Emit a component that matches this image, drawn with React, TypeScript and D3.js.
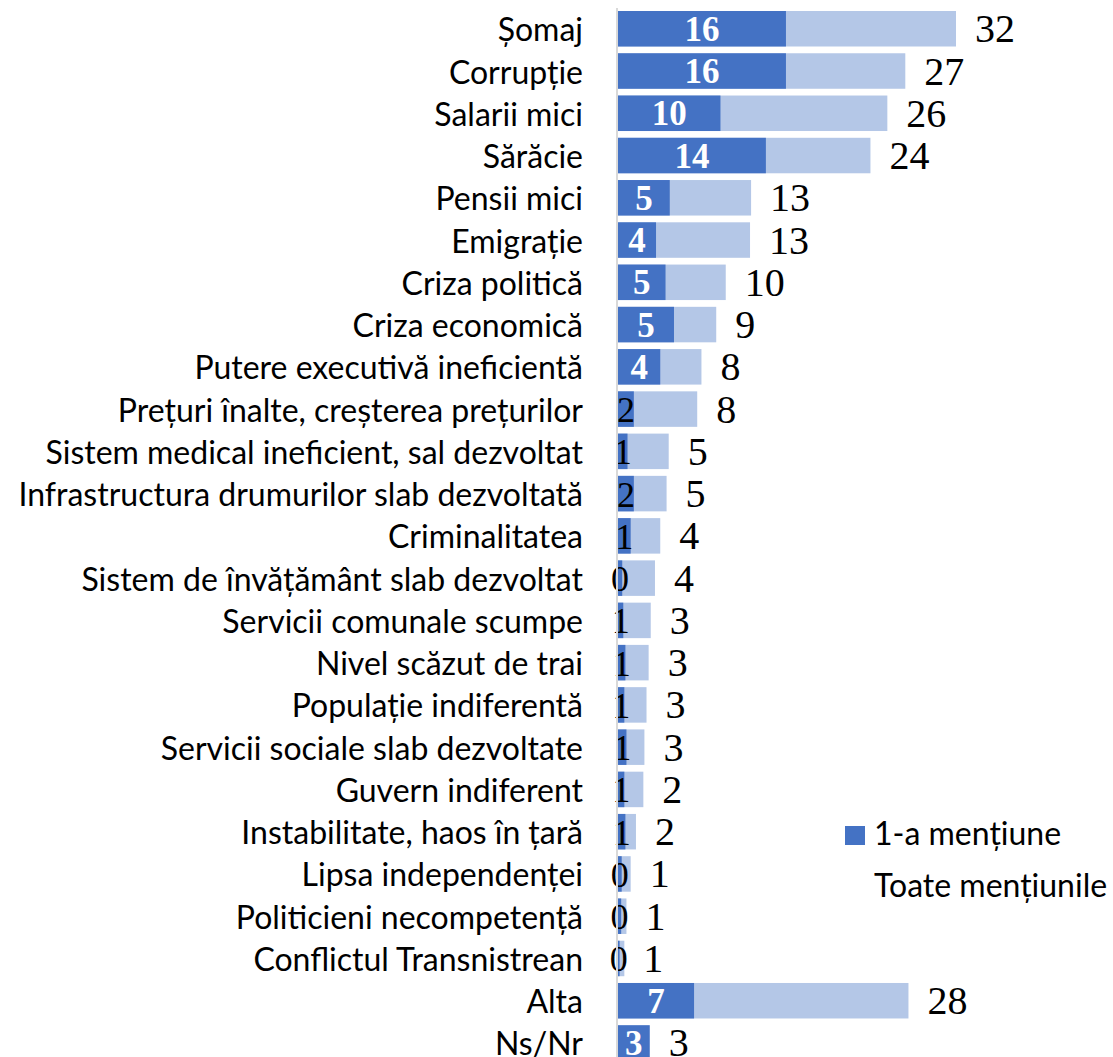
import React from "react";
import * as d3 from "d3";

const categories = [
  "Șomaj",
  "Corrupție",
  "Salarii mici",
  "Sărăcie",
  "Pensii mici",
  "Emigrație",
  "Criza politică",
  "Criza economică",
  "Putere executivă ineficientă",
  "Prețuri înalte, creșterea prețurilor",
  "Sistem medical ineficient, sal dezvoltat",
  "Infrastructura drumurilor slab dezvoltată",
  "Criminalitatea",
  "Sistem de învățământ slab dezvoltat",
  "Servicii comunale scumpe",
  "Nivel scăzut de trai",
  "Populație indiferentă",
  "Servicii sociale slab dezvoltate",
  "Guvern indiferent",
  "Instabilitate, haos în țară",
  "Lipsa independenței",
  "Politicieni necompetență",
  "Conflictul Transnistrean",
  "Alta",
  "Ns/Nr",
];

const firstMention = [
  15.9, 15.9, 9.7, 14.0, 4.9, 3.6, 4.5, 5.3, 4.0, 1.5, 0.9, 1.5, 1.2, 0.4, 0.5,
  0.7, 0.6, 0.8, 0.6, 0.7, 0.35, 0.3, 0.15, 7.2, 3.0,
];

const allMentions = [
  32.0, 27.2, 25.5, 23.9, 12.6, 12.5, 10.2, 9.3, 7.9, 7.5, 4.8, 4.6, 4.0, 3.5,
  3.1, 2.9, 2.7, 2.5, 2.4, 1.7, 1.2, 0.8, 0.6, 27.5, 3.0,
];

const seriesNames = ["1-a mențiune", "Toate mențiunile"];

const W = 1113;
const H = 1057;
const DARK = "#4472C4";
const LIGHT = "#B4C7E7";
const SANS = "Lato, 'Noto Sans', sans-serif";
const SERIF = "'Liberation Serif', 'DejaVu Serif', serif";

export default function App() {
  const step = 42.26;
  const y0 = 11 - 0.08 * step;
  const y = d3
    .scaleBand<string>()
    .domain(categories)
    .range([y0, y0 + categories.length * step])
    .paddingInner(0.16)
    .paddingOuter(0.08);
  const x = d3.scaleLinear().domain([0, 32]).range([618, 956]);
  const bw = y.bandwidth();
  const fmt = (v: number) => String(Math.round(v));

  return (
    <svg
      width={W}
      height={H}
      style={{ position: "absolute", left: 0, top: 0, background: "#fff" }}
    >
      {categories.map((c, i) => {
        const yy = y(c)!;
        const cy = yy + bw / 2;
        const d = firstMention[i];
        const t = allMentions[i];
        const dl = Math.round(d);
        const strong = dl >= 3;
        return (
          <g key={c}>
            <rect x={x(0)} y={yy} width={x(t) - x(0)} height={bw} fill={LIGHT} />
            <rect x={x(0)} y={yy} width={x(d) - x(0)} height={bw} fill={DARK} />
            <text
              x={583}
              y={cy + 12.5}
              textAnchor="end"
              fontFamily={SANS}
              fontSize={32}
              fill="#000"
            >
              {c}
            </text>
            <text
              x={x(t) + 19}
              y={cy + 13.5}
              fontFamily={SERIF}
              fontSize={40}
              fill="#000"
            >
              {fmt(t)}
            </text>
            <text
              x={(x(0) + x(d)) / 2}
              y={cy + (strong ? 12 : 13)}
              textAnchor="middle"
              fontFamily={SERIF}
              fontWeight={strong ? "bold" : "normal"}
              fontSize={strong ? 35 : 36}
              fill={strong ? "#fff" : "#000"}
            >
              {fmt(d)}
            </text>
          </g>
        );
      })}
      <line x1={617} x2={617} y1={8} y2={H} stroke="#d9d9d9" strokeWidth={2} />
      <rect x={845} y={826} width={20} height={19} fill={DARK} />
      <text x={874} y={845} fontFamily={SANS} fontSize={32} fill="#000">
        {seriesNames[0]}
      </text>
      <text x={874} y={897} fontFamily={SANS} fontSize={32} fill="#000">
        {seriesNames[1]}
      </text>
    </svg>
  );
}
